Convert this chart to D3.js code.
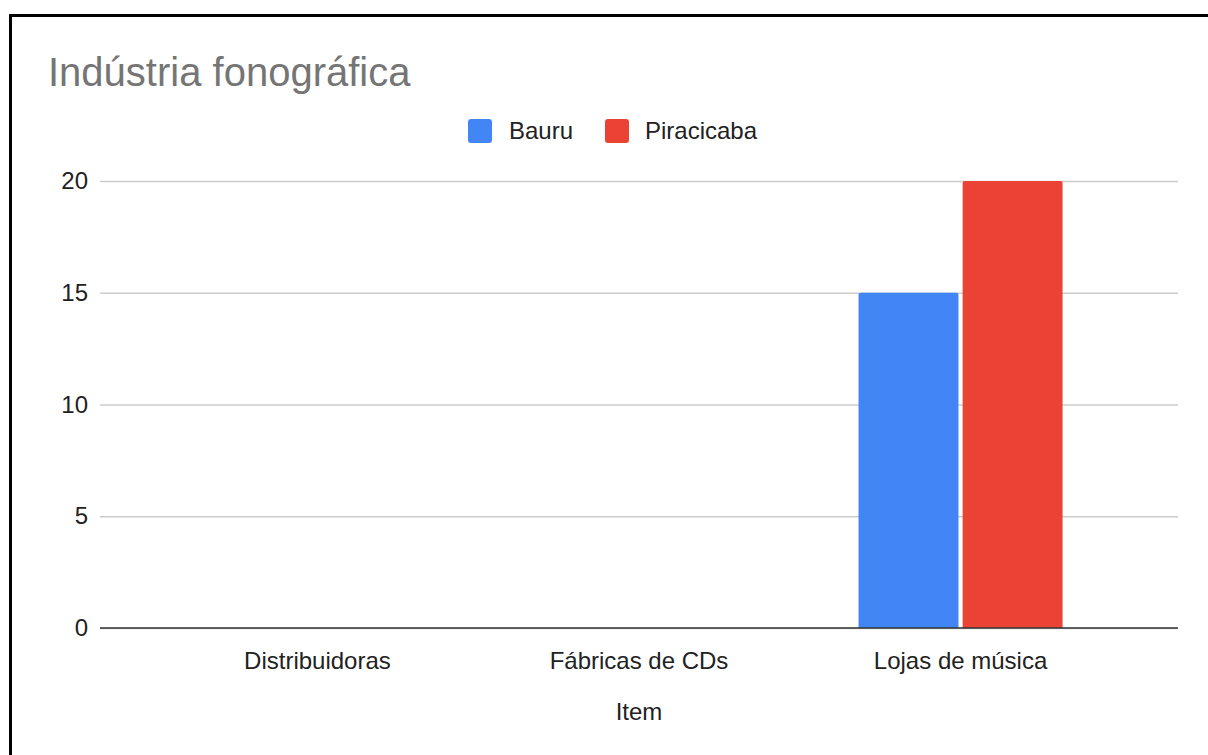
<!DOCTYPE html>
<html>
<head>
<meta charset="utf-8">
<script src="https://cdn.jsdelivr.net/npm/d3@7"></script>
<style>
  html, body { margin: 0; padding: 0; background: #fff; overflow: hidden; }
  svg { display: block; font-family: Arial, "Liberation Sans", sans-serif; }
</style>
</head>
<body>
<svg id="chart" width="1208" height="755"></svg>
<script>
const categories = ["Distribuidoras", "Fábricas de CDs", "Lojas de música"];
const seriesNames = ["Bauru", "Piracicaba"];
const bauru = [0, 0, 15];
const piracicaba = [0, 0, 20];
const seriesColors = ["#4285f4", "#ea4335"];
const yTicks = [0, 5, 10, 15, 20];
const title = "Indústria fonográfica";
const xTitle = "Item";

(function () {
const seriesValues = [bauru, piracicaba];
const svg = d3.select("#chart");

// frame
svg.append("rect").attr("x", 10.5).attr("y", 15.5).attr("width", 1220).attr("height", 770)
  .attr("fill", "#fff").attr("stroke", "#000").attr("stroke-width", 3);

const pLeft = 100, pRight = 1178, pTop = 181, pBottom = 628;

const x0 = d3.scaleBand().domain(categories).range([pLeft, pRight])
  .paddingInner(0.3655).paddingOuter(0.359);
const x1 = d3.scaleBand().domain(seriesNames).range([0, x0.bandwidth()]).paddingInner(0.04);
const y = d3.scaleLinear().domain([0, 20]).range([pBottom, pTop]);

// title
svg.append("text").attr("x", 48).attr("y", 86).attr("fill", "#757575")
  .attr("font-size", 40).text(title);

// legend
const legendItems = [
  { name: seriesNames[0], color: seriesColors[0], sx: 468, tx: 509 },
  { name: seriesNames[1], color: seriesColors[1], sx: 605, tx: 645 }
];
const lg = svg.append("g");
legendItems.forEach(d => {
  lg.append("rect").attr("x", d.sx).attr("y", 119).attr("width", 24).attr("height", 24)
    .attr("rx", 3).attr("fill", d.color);
  lg.append("text").attr("x", d.tx).attr("y", 139).attr("font-size", 24).attr("fill", "#222").text(d.name);
});

// gridlines + y labels
const yAxis = d3.axisLeft(y).tickValues(yTicks).tickSize(-(pRight - pLeft)).tickPadding(12).tickFormat(d3.format("d"));
const ga = svg.append("g").attr("transform", `translate(${pLeft},0)`).call(yAxis);
ga.select(".domain").remove();
ga.selectAll(".tick line").attr("stroke", "#cccccc").attr("stroke-width", 1.5);
ga.selectAll(".tick text").attr("font-size", 24).attr("fill", "#222").attr("x", -12)
  .attr("font-family", "Arial, 'Liberation Sans', sans-serif");

// bars
categories.forEach((c, i) => {
  seriesNames.forEach((s, j) => {
    const v = seriesValues[j][i];
    if (v <= 0) return;
    const bx = x0(c) + x1(s), bw = x1.bandwidth();
    const by = y(v), bh = y(0) - y(v);
    const r = 2;
    const path = `M${bx},${by + bh} L${bx},${by + r} Q${bx},${by} ${bx + r},${by} L${bx + bw - r},${by} Q${bx + bw},${by} ${bx + bw},${by + r} L${bx + bw},${by + bh} Z`;
    svg.append("path").attr("d", path).attr("fill", seriesColors[j]);
  });
});

// baseline
svg.append("line").attr("x1", pLeft).attr("x2", pRight).attr("y1", y(0)).attr("y2", y(0))
  .attr("stroke", "#333").attr("stroke-width", 1.5);

// x labels
const xAxis = d3.axisBottom(x0).tickSize(0).tickPadding(24);
const gx = svg.append("g").attr("transform", `translate(0,${y(0)})`).call(xAxis);
gx.select(".domain").remove();
gx.selectAll(".tick text").attr("font-size", 24).attr("fill", "#222")
  .attr("font-family", "Arial, 'Liberation Sans', sans-serif");

// x title
svg.append("text").attr("x", (pLeft + pRight) / 2).attr("y", 720).attr("text-anchor", "middle")
  .attr("font-size", 24).attr("fill", "#222").text(xTitle);
})();
</script>
</body>
</html>
